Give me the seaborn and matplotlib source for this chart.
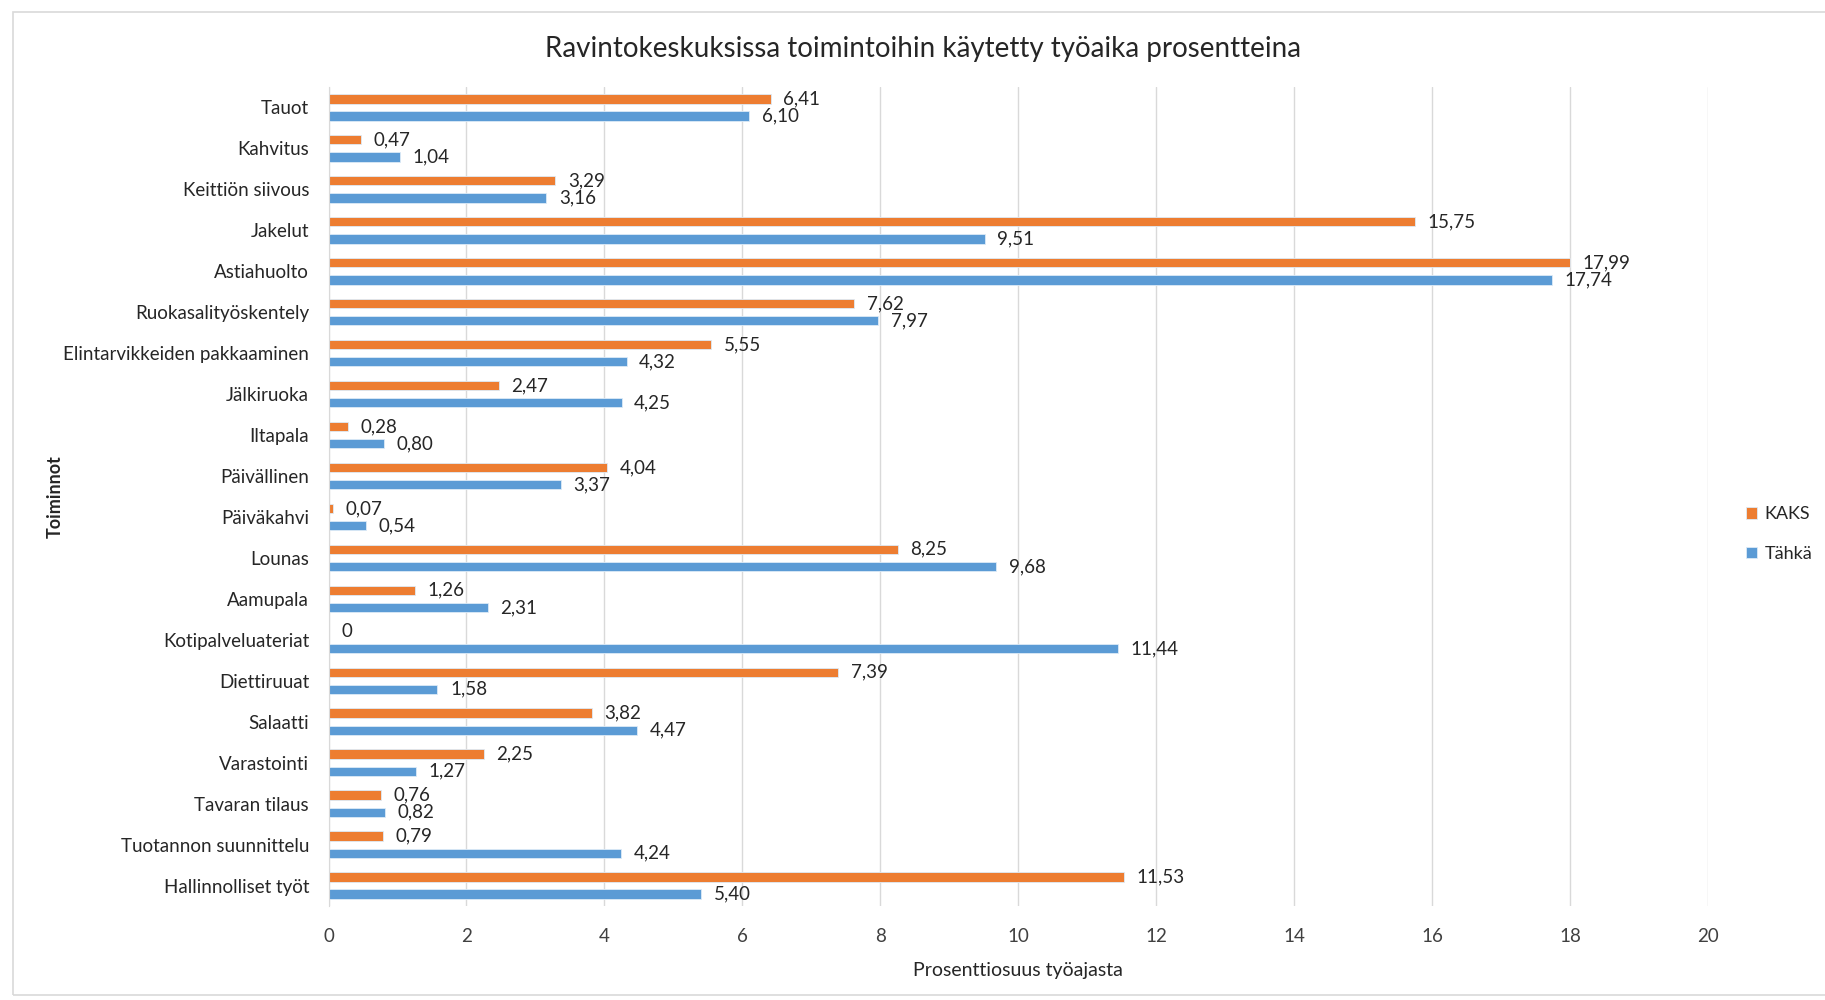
import matplotlib
matplotlib.use("Agg")
import matplotlib.pyplot as plt
from matplotlib.patches import Rectangle
import pandas as pd
import seaborn as sns

# data (top to bottom)
toiminnot = [
    "Tauot", "Kahvitus", "Keittiön siivous", "Jakelut", "Astiahuolto",
    "Ruokasalityöskentely", "Elintarvikkeiden pakkaaminen", "Jälkiruoka",
    "Iltapala", "Päivällinen", "Päiväkahvi", "Lounas", "Aamupala",
    "Kotipalveluateriat", "Diettiruuat", "Salaatti", "Varastointi",
    "Tavaran tilaus", "Tuotannon suunnittelu", "Hallinnolliset työt",
]
kaks = [6.41, 0.47, 3.29, 15.75, 17.99, 7.62, 5.55, 2.47, 0.28, 4.04,
        0.07, 8.25, 1.26, 0, 7.39, 3.82, 2.25, 0.76, 0.79, 11.53]
tahka = [6.10, 1.04, 3.16, 9.51, 17.74, 7.97, 4.32, 4.25, 0.80, 3.37,
         0.54, 9.68, 2.31, 11.44, 1.58, 4.47, 1.27, 0.82, 4.24, 5.40]
sarjat = ["KAKS", "Tähkä"]
varit = {"KAKS": "#ED7D31", "Tähkä": "#5B9BD5"}
x_ticks = list(range(0, 21, 2))

df = pd.DataFrame({
    "Toiminnot": toiminnot * 2,
    "Arvo": kaks + tahka,
    "Sarja": [sarjat[0]] * len(toiminnot) + [sarjat[1]] * len(toiminnot),
})

sns.set_style("white")
plt.rcParams["font.family"] = ["Lato", "DejaVu Sans"]

fig = plt.figure(figsize=(18.25, 10), dpi=100)
ax = fig.add_axes([0.180, 0.094, 0.756, 0.819])

sns.barplot(data=df, x="Arvo", y="Toiminnot", hue="Sarja", orient="h",
            order=toiminnot, hue_order=sarjat, palette=varit, saturation=1,
            width=0.84, gap=0.46, dodge=True, edgecolor="#DDEBF7",
            linewidth=0.6, ax=ax)

def muotoile(v):
    return "0" if v == 0 else f"{v:.2f}".replace(".", ",")

for cont, vals in zip(ax.containers, [kaks, tahka]):
    ax.bar_label(cont, labels=[muotoile(v) for v in vals], padding=9,
                 fontsize=13.5, color="#262626")

ax.set_xlim(0, 20)
ax.set_xticks(x_ticks)
ax.set_ylim(len(toiminnot) - 0.5, -0.5)
ax.grid(axis="x", color="#D9D9D9", linewidth=1)
ax.set_axisbelow(True)
for s in ["top", "right", "bottom"]:
    ax.spines[s].set_visible(False)
ax.spines["left"].set_color("#D9D9D9")
ax.tick_params(axis="x", labelsize=13.5, colors="#404040", length=0, pad=16)
ax.tick_params(axis="y", labelsize=13.5, colors="#262626", length=0, pad=14)

ax.set_xlabel("Prosenttiosuus työajasta", fontsize=14, color="#262626", labelpad=12)
ax.set_ylabel("Toiminnot", fontsize=13, color="#262626", fontweight="bold")
ax.yaxis.set_label_coords(-0.192, 0.5)

fig.suptitle("Ravintokeskuksissa toimintoihin käytetty työaika prosentteina",
             x=0.506, y=0.964, fontsize=20, color="#262626")

ax.get_legend().remove()
handles, labels = ax.get_legend_handles_labels()
fig.legend(handles, labels, loc="center left", bbox_to_anchor=(0.953, 0.466),
           frameon=False, fontsize=13, handlelength=0.6, handleheight=0.6,
           labelspacing=1.3, handletextpad=0.4, borderaxespad=0)

fig.add_artist(Rectangle((0.007, 0.005), 1.2, 0.983, transform=fig.transFigure,
                         fill=False, edgecolor="#D9D9D9", linewidth=1.2))

fig.savefig("out.png", dpi=100)
